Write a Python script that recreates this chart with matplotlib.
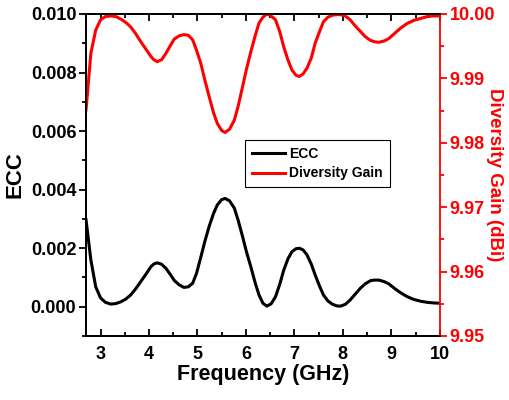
import matplotlib
matplotlib.use("Agg")
import matplotlib.pyplot as plt
from matplotlib.ticker import MultipleLocator

plt.rcParams['font.family'] = ['Liberation Sans', 'DejaVu Sans']
plt.rcParams['font.weight'] = 'bold'

# 読み取ったデータ
freq = [2.70, 2.80, 2.90, 3.00, 3.10, 3.21, 3.32, 3.42, 3.52, 3.62, 3.72, 3.83, 3.94,
        4.04, 4.10, 4.17, 4.26, 4.35, 4.44, 4.52, 4.62, 4.72, 4.81, 4.90, 4.98,
        5.07, 5.15, 5.24, 5.33, 5.41, 5.50, 5.57, 5.66, 5.76, 5.84, 5.93, 6.01,
        6.10, 6.19, 6.27, 6.35, 6.43, 6.52, 6.61, 6.70, 6.78, 6.87, 6.95, 7.03,
        7.10, 7.18, 7.26, 7.35, 7.43, 7.52, 7.60, 7.69, 7.78, 7.87, 7.95, 8.05,
        8.15, 8.25, 8.36, 8.46, 8.57, 8.65, 8.74, 8.85, 8.95, 9.07, 9.19, 9.32,
        9.46, 9.60, 9.74, 9.87, 10.00]

ecc = [0.00297, 0.00160, 0.00068, 0.00030, 0.00015, 0.00009, 0.00011, 0.00017, 0.00026, 0.00040,
       0.00060, 0.00086, 0.00112, 0.00137, 0.00146, 0.00150, 0.00145, 0.00131, 0.00110, 0.00090,
       0.00075, 0.00066, 0.00068, 0.00080, 0.00114, 0.00170, 0.00222, 0.00274, 0.00318, 0.00348,
       0.00366, 0.00370, 0.00362, 0.00337, 0.00295, 0.00240, 0.00188, 0.00137, 0.00082, 0.00040,
       0.00012, 0.00002, 0.00010, 0.00034, 0.00078, 0.00125, 0.00165, 0.00188, 0.00198, 0.00200,
       0.00194, 0.00177, 0.00145, 0.00108, 0.00070, 0.00040, 0.00020, 0.00009, 0.00003, 0.00002,
       0.00008, 0.00023, 0.00042, 0.00063, 0.00078, 0.00089, 0.00091, 0.00091, 0.00086, 0.00078,
       0.00062, 0.00048, 0.00035, 0.00025, 0.00019, 0.00015, 0.00013, 0.00012]

dg = [9.9851, 9.9939, 9.9975, 9.9991, 9.9996, 9.9997, 9.9996, 9.9992, 9.9987, 9.9980,
      9.9970, 9.9957, 9.9945, 9.9934, 9.9929, 9.9926, 9.9929, 9.9939, 9.9951, 9.9961,
      9.9966, 9.9968, 9.9967, 9.9960, 9.9944, 9.9923, 9.9898, 9.9872, 9.9847, 9.9830,
      9.9819, 9.9816, 9.9821, 9.9835, 9.9857, 9.9887, 9.9914, 9.9941, 9.9966, 9.9986,
      9.9995, 10.000, 9.9997, 9.9991, 9.9972, 9.9949, 9.9928, 9.9913, 9.9905, 9.9903,
      9.9907, 9.9916, 9.9932, 9.9955, 9.9973, 9.9988, 9.9995, 9.9998, 9.9999, 9.9999,
      9.9997, 9.9991, 9.9982, 9.9973, 9.9965, 9.9959, 9.9957, 9.9956, 9.9958, 9.9962,
      9.9970, 9.9978, 9.9985, 9.9990, 9.9993, 9.9996, 9.9997, 9.9997]

fig = plt.figure(figsize=(5.09, 4.0), dpi=100)
ax = fig.add_axes([0.169, 0.16, 0.695, 0.805])
ax2 = ax.twinx()

l1, = ax.plot(freq, ecc, color='black', lw=2.2, label='ECC')
l2, = ax2.plot(freq, dg, color='red', lw=2.2, label='Diversity Gain')

ax.set_xlim(2.7, 10)
ax.set_ylim(-0.001, 0.010)
ax2.set_ylim(9.95, 10.00)

ax.xaxis.set_major_locator(MultipleLocator(1))
ax.xaxis.set_minor_locator(MultipleLocator(0.5))
ax.yaxis.set_major_locator(MultipleLocator(0.002))
ax.yaxis.set_minor_locator(MultipleLocator(0.001))
ax2.yaxis.set_major_locator(MultipleLocator(0.01))
ax2.yaxis.set_minor_locator(MultipleLocator(0.005))
ax.yaxis.set_major_formatter(plt.FormatStrFormatter('%.3f'))
ax2.yaxis.set_major_formatter(plt.FormatStrFormatter('%.2f'))

# 目盛りの設定
ax.tick_params(axis='x', which='both', direction='in', top=True, labelsize=13, width=1.3)
ax.tick_params(axis='x', which='major', length=5, pad=7)
ax.tick_params(axis='x', which='minor', length=3)
ax.tick_params(axis='y', which='both', direction='out', labelsize=13, width=1.3)
ax.tick_params(axis='y', which='major', length=5, pad=2)
ax.tick_params(axis='y', which='minor', length=3)
ax2.tick_params(axis='y', which='both', direction='out', colors='red', labelsize=13, width=1.3)
ax2.tick_params(axis='y', which='major', length=5, pad=2)
ax2.tick_params(axis='y', which='minor', length=3)

for s in ax.spines.values():
    s.set_linewidth(1.3)
ax.spines['right'].set_visible(False)
for s in ax2.spines.values():
    s.set_linewidth(1.3)
ax2.spines['right'].set_color('red')

ax.set_xlabel('Frequency (GHz)', fontsize=15.5, fontweight='bold', labelpad=1)
ax.set_ylabel('ECC', fontsize=16, fontweight='bold', labelpad=4)
ax2.set_ylabel('Diversity Gain (dBi)', fontsize=13.5, fontweight='bold', color='red',
               rotation=270, labelpad=6)

leg = ax2.legend(handles=[l1, l2], loc='upper left', bbox_to_anchor=(0.449, 0.609),
                 borderaxespad=0, fancybox=False, edgecolor='black', framealpha=1,
                 prop={'size': 10, 'weight': 'bold'}, handlelength=2.4,
                 handletextpad=0.3, borderpad=0.5, labelspacing=0.4)
leg.get_frame().set_linewidth(0.8)

fig.savefig('out.png', dpi=100)
